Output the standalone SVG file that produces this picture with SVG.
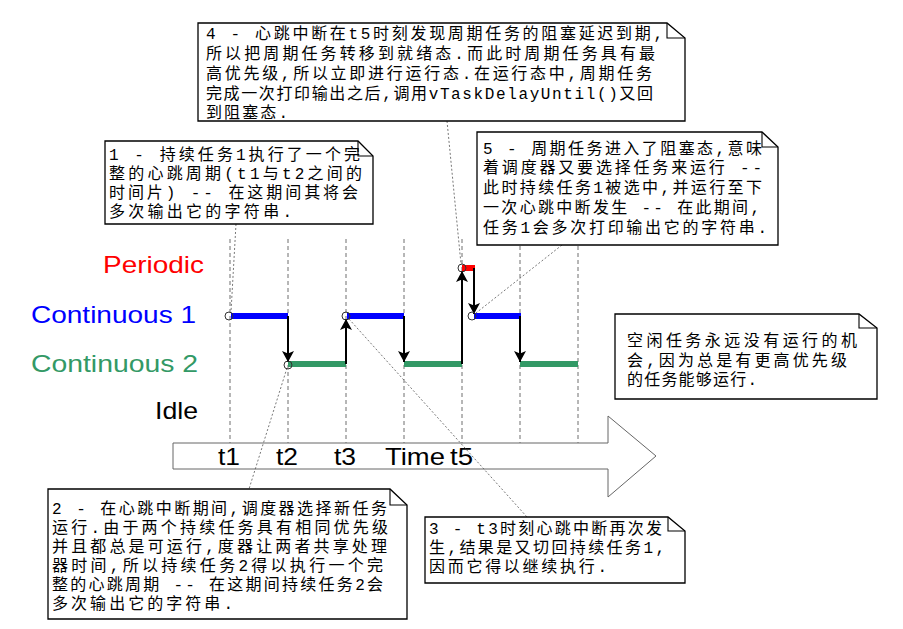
<svg xmlns="http://www.w3.org/2000/svg" width="903" height="629" viewBox="0 0 903 629">
<defs>
<style>
.grid{stroke:#6e6e6e;stroke-width:1;stroke-dasharray:4 3;fill:none}
.lead{stroke:#555;stroke-width:0.8;stroke-dasharray:2 2;fill:none}
.note{fill:#fff;stroke:#000;stroke-width:1.3}
.fold{fill:none;stroke:#000;stroke-width:1.1}
.nt{font-family:"Liberation Mono","Noto Sans CJK SC","Noto Sans CJK TC",monospace;font-size:16px;fill:#000}
.lbl{font-family:"Liberation Sans",Arial,sans-serif;font-size:24px}
.seg{stroke-width:6;fill:none}
.flow{stroke:#000;stroke-width:2;fill:none;marker-end:url(#ah)}
.pt{fill:none;stroke:#333;stroke-width:1}
</style>
<marker id="ah" viewBox="0 0 11 12" refX="11" refY="6" markerWidth="11" markerHeight="12" markerUnits="userSpaceOnUse" orient="auto">
<path d="M0,0 L11,6 L0,12 L2.5,6 z" fill="#000"/>
</marker>
</defs>
<rect width="903" height="629" fill="#fff"/>

<g id="time-axis">
<path d="M173,443 H608 V416 L656,456 L608,497 V469 H173 Z" fill="#fff" stroke="#666" stroke-width="1"/>
<g class="lbl" fill="#000">
<text x="218" y="465" textLength="22" lengthAdjust="spacingAndGlyphs">t1</text>
<text x="276" y="465" textLength="22" lengthAdjust="spacingAndGlyphs">t2</text>
<text x="334" y="465" textLength="22" lengthAdjust="spacingAndGlyphs">t3</text>
<text x="385" y="465" textLength="60" lengthAdjust="spacingAndGlyphs">Time</text>
<text x="450" y="465" textLength="23" lengthAdjust="spacingAndGlyphs">t5</text>
</g>
</g>

<g id="grid">
<line class="grid" x1="230" y1="239" x2="230" y2="443"/>
<line class="grid" x1="288" y1="239" x2="288" y2="443"/>
<line class="grid" x1="346" y1="239" x2="346" y2="443"/>
<line class="grid" x1="404" y1="239" x2="404" y2="443"/>
<line class="grid" x1="462" y1="239" x2="462" y2="443"/>
<line class="grid" x1="520" y1="239" x2="520" y2="443"/>
<line class="grid" x1="578" y1="239" x2="578" y2="443"/>
</g>

<g id="lane-labels" class="lbl">
<text x="103" y="273" fill="#ff0000" textLength="101" lengthAdjust="spacingAndGlyphs">Periodic</text>
<text x="31" y="323" fill="#0000ff" textLength="165" lengthAdjust="spacingAndGlyphs">Continuous 1</text>
<text x="31" y="372" fill="#339966" textLength="167" lengthAdjust="spacingAndGlyphs">Continuous 2</text>
<text x="155" y="419" fill="#000" textLength="43" lengthAdjust="spacingAndGlyphs">Idle</text>
</g>

<g id="task-segments">
<line class="seg" stroke="#0000ff" x1="231" y1="316" x2="288" y2="316"/>
<line class="seg" stroke="#0000ff" x1="347" y1="316" x2="404" y2="316"/>
<line class="seg" stroke="#0000ff" x1="474" y1="316" x2="521" y2="316"/>
<line class="seg" stroke="#339966" x1="288" y1="364" x2="346" y2="364"/>
<line class="seg" stroke="#339966" x1="404" y1="364" x2="462" y2="364"/>
<line class="seg" stroke="#339966" x1="520" y1="364" x2="578" y2="364"/>
<line class="seg" stroke="#ff0000" x1="462" y1="268" x2="475" y2="268"/>
</g>

<g id="connectors">
<line class="flow" x1="288" y1="316" x2="288" y2="362"/>
<line class="flow" x1="346" y1="364" x2="346" y2="319"/>
<line class="flow" x1="404" y1="316" x2="404" y2="362"/>
<line class="flow" x1="462" y1="364" x2="462" y2="271"/>
<line class="flow" x1="474" y1="268" x2="474" y2="314"/>
<line class="flow" x1="520" y1="316" x2="520" y2="362"/>
<line class="lead" x1="236" y1="224" x2="231" y2="312"/>
<line class="lead" x1="447" y1="121" x2="461" y2="264"/>
<line class="lead" x1="562" y1="245" x2="476" y2="313"/>
<line class="lead" x1="287" y1="368" x2="249" y2="489"/>
<line class="lead" x1="349" y1="319" x2="527" y2="517"/>
<circle class="pt" cx="229" cy="316" r="4"/>
<circle class="pt" cx="288" cy="365" r="4"/>
<circle class="pt" cx="346" cy="316" r="4"/>
<circle class="pt" cx="462" cy="268" r="4"/>
<circle class="pt" cx="472" cy="316" r="4"/>
</g>

<g id="note4">
<path class="note" d="M198,23 H667 L685,38 V121 H198 Z"/>
<path class="fold" d="M667,23 V38 H685"/>
<g class="nt">
<text x="206" y="39" textLength="457">4 - 心跳中断在t5时刻发现周期任务的阻塞延迟到期,</text>
<text x="206" y="59" textLength="449">所以把周期任务转移到就绪态.而此时周期任务具有最</text>
<text x="206" y="79" textLength="446">高优先级,所以立即进行运行态.在运行态中,周期任务</text>
<text x="206" y="99" textLength="447">完成一次打印输出之后,调用vTaskDelayUntil()又回</text>
<text x="206" y="118" textLength="82">到阻塞态.</text>
</g>
</g>

<g id="note1">
<path class="note" d="M105,141 H358 L373,156 V224 H105 Z"/>
<path class="fold" d="M358,141 V156 H373"/>
<g class="nt">
<text x="109" y="160" textLength="251">1 - 持续任务1执行了一个完</text>
<text x="109" y="179" textLength="253">整的心跳周期(t1与t2之间的</text>
<text x="109" y="198" textLength="249">时间片) -- 在这期间其将会</text>
<text x="109" y="217" textLength="183">多次输出它的字符串.</text>
</g>
</g>

<g id="note5">
<path class="note" d="M477,132 H762 L778,147 V245 H477 Z"/>
<path class="fold" d="M762,132 V147 H778"/>
<g class="nt">
<text x="483" y="154" textLength="279">5 - 周期任务进入了阻塞态,意味</text>
<text x="483" y="173" textLength="279">着调度器又要选择任务来运行 --</text>
<text x="483" y="193" textLength="279">此时持续任务1被选中,并运行至下</text>
<text x="483" y="213" textLength="277">一次心跳中断发生 -- 在此期间,</text>
<text x="483" y="233" textLength="284">任务1会多次打印输出它的字符串.</text>
</g>
</g>

<g id="note-idle">
<path class="note" d="M615,314 H859 L877,328 V399 H615 Z"/>
<path class="fold" d="M859,314 V328 H877"/>
<g class="nt">
<text x="627" y="346" textLength="230">空闲任务永远没有运行的机</text>
<text x="627" y="366" textLength="220">会,因为总是有更高优先级</text>
<text x="627" y="385" textLength="130">的任务能够运行.</text>
</g>
</g>

<g id="note2">
<path class="note" d="M48,489 H390 L407,505 V619 H48 Z"/>
<path class="fold" d="M390,489 V505 H407"/>
<g class="nt">
<text x="52" y="514" textLength="335">2 - 在心跳中断期间,调度器选择新任务</text>
<text x="52" y="533" textLength="336">运行.由于两个持续任务具有相同优先级</text>
<text x="52" y="552" textLength="335">并且都总是可运行,度器让两者共享处理</text>
<text x="52" y="571" textLength="331">器时间,所以持续任务2得以执行一个完</text>
<text x="52" y="590" textLength="331">整的心跳周期 -- 在这期间持续任务2会</text>
<text x="52" y="609" textLength="181">多次输出它的字符串.</text>
</g>
</g>

<g id="note3">
<path class="note" d="M425,517 H668 L685,531 V583 H425 Z"/>
<path class="fold" d="M668,517 V531 H685"/>
<g class="nt">
<text x="429" y="534" textLength="233">3 - t3时刻心跳中断再次发</text>
<text x="429" y="553" textLength="236">生,结果是又切回持续任务1,</text>
<text x="429" y="572" textLength="178">因而它得以继续执行.</text>
</g>
</g>
</svg>
